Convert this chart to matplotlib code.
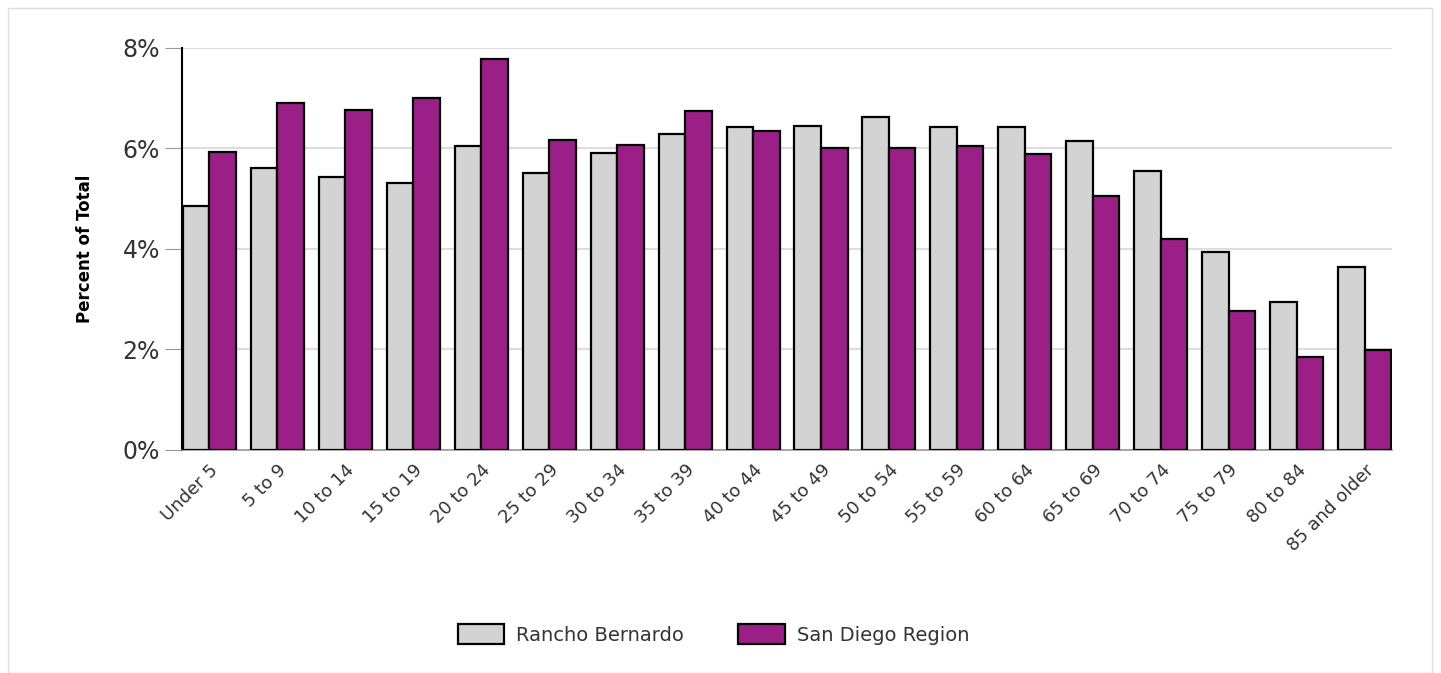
import numpy as np
import matplotlib.pyplot as plt
from matplotlib.patches import Rectangle
from matplotlib.ticker import FuncFormatter

# Age distribution, percent of total population
age_groups = ["Under 5", "5 to 9", "10 to 14", "15 to 19", "20 to 24", "25 to 29",
              "30 to 34", "35 to 39", "40 to 44", "45 to 49", "50 to 54", "55 to 59",
              "60 to 64", "65 to 69", "70 to 74", "75 to 79", "80 to 84", "85 and older"]
rancho_bernardo = [4.86, 5.61, 5.43, 5.31, 6.05, 5.51, 5.91, 6.29, 6.43, 6.45,
                   6.63, 6.43, 6.43, 6.15, 5.55, 3.94, 2.95, 3.64]
san_diego = [5.93, 6.91, 6.77, 7.00, 7.78, 6.17, 6.07, 6.75, 6.35, 6.01,
             6.01, 6.05, 5.89, 5.05, 4.20, 2.77, 1.85, 1.99]

plt.rcParams['font.family'] = ['DejaVu Sans']

fig = plt.figure(figsize=(14.41, 6.73), dpi=100)
ax = fig.add_axes([0.1263, 0.3314, 0.8397, 0.5973])

x = np.arange(len(age_groups))
w = 0.39
ax.bar(x - w / 2, rancho_bernardo, w, color="#d3d3d3", edgecolor="black",
       linewidth=1.6, label="Rancho Bernardo", zorder=3)
ax.bar(x + w / 2, san_diego, w, color="#9c1f87", edgecolor="black",
       linewidth=1.6, label="San Diego Region", zorder=3)

ax.set_xlim(-0.4, len(age_groups) - 0.6)
ax.set_ylim(0, 8)
ax.set_yticks([0, 2, 4, 6, 8])
ax.yaxis.set_major_formatter(FuncFormatter(lambda v, _: f"{v:.0f}%"))
ax.grid(axis="y", color="#dddddd", linewidth=1.5, zorder=0)

ax.set_xticks(x)
ax.set_xticklabels(age_groups, rotation=45, ha="right", rotation_mode="anchor",
                   fontsize=13, color="#333333")
ax.tick_params(axis="x", length=0, pad=8)
ax.tick_params(axis="y", length=12, color="#999999", labelsize=17,
               labelcolor="#333333", pad=4)

for side in ["top", "right"]:
    ax.spines[side].set_visible(False)
ax.spines["left"].set_linewidth(1.5)
ax.spines["left"].set_color("black")
ax.spines["bottom"].set_color("#999999")
ax.spines["bottom"].set_linewidth(1.2)

ax.set_ylabel("Percent of Total", fontsize=12, fontweight="bold", labelpad=20)

fig.legend(loc="center", bbox_to_anchor=(0.495, 0.057), ncol=2, frameon=False,
           fontsize=14, handlelength=2.4, handleheight=1.2, columnspacing=2.8,
           handletextpad=0.6, labelcolor="#333333")

# thin frame around the whole figure
fig.patches.append(Rectangle((0.0055, 0.0), 0.9885, 0.988, transform=fig.transFigure,
                             fill=False, edgecolor="#dddddd", linewidth=1))

fig.savefig("out.png", dpi=100)
